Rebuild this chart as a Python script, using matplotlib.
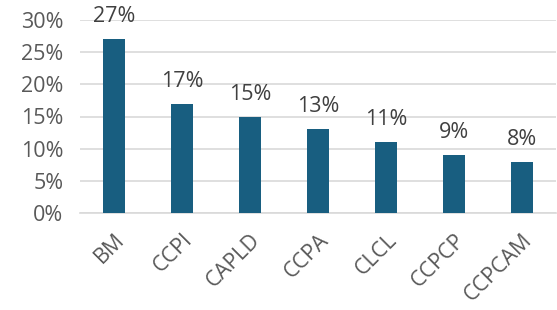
import matplotlib.pyplot as plt
from matplotlib.ticker import PercentFormatter

categories = ['BM', 'CCPI', 'CAPLD', 'CCPA', 'CLCL', 'CCPCP', 'CCPCAM']
values = [27, 17, 15, 13, 11, 9, 8]

plt.rcParams['font.family'] = ['Open Sans', 'DejaVu Sans']

fig = plt.figure(figsize=(5.57, 3.10), dpi=100)
ax = fig.add_axes([80 / 557, 1 - 213 / 310, 476 / 557, 193 / 310])

bars = ax.bar(range(len(categories)), values, width=0.32, color='#185E80', zorder=3)
for i, v in enumerate(values):
    ax.annotate(f'{v}%', (i, v), xytext=(0, 12), textcoords='offset pixels',
                ha='center', va='bottom', fontsize=15.5, color='#404040')

ax.set_xlim(-0.5, len(categories) - 0.5)
ax.set_ylim(0, 30)
ax.set_yticks(range(0, 31, 5))
ax.yaxis.set_major_formatter(PercentFormatter(decimals=0))
ax.grid(axis='y', color='#D9D9D9', linewidth=1.2, zorder=0)
for s in ['top', 'right', 'left']:
    ax.spines[s].set_visible(False)
ax.spines['bottom'].set_color('#D9D9D9')
ax.spines['bottom'].set_linewidth(1.2)
ax.tick_params(length=0, labelsize=15.5, colors='#595959')
ax.tick_params(axis='y', pad=12)
ax.set_xticks(range(len(categories)))
ax.set_xticklabels(categories, rotation=45, ha='right', rotation_mode='anchor')
ax.tick_params(axis='x', pad=12)

fig.savefig('out.png', dpi=100)
